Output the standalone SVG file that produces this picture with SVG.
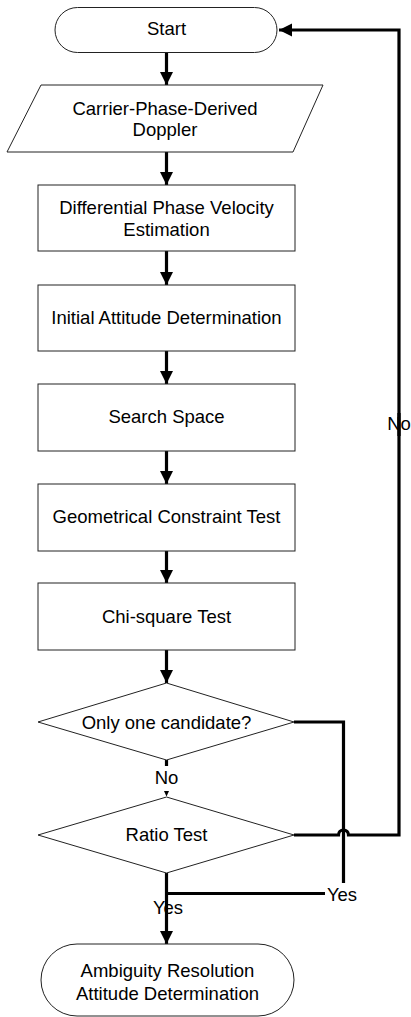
<svg xmlns="http://www.w3.org/2000/svg" width="411" height="1017" viewBox="0 0 411 1017">
<style>
.n{fill:#fff;stroke:#222;stroke-width:1}
.t{font-family:"Liberation Sans",Arial,sans-serif;font-size:18.5px;fill:#000;text-anchor:middle}
.c{fill:none;stroke:#000;stroke-width:3.2}
</style>
<defs>
<marker id="ah" markerUnits="userSpaceOnUse" markerWidth="14" markerHeight="14" refX="13" refY="6.5" orient="auto">
<path d="M0,0 L13,6.5 L0,13 z" fill="#000"/>
</marker>
</defs>
<rect width="411" height="1017" fill="#fff"/>
<g id="connectors">
<path class="c" d="M166.5,52 V85" marker-end="url(#ah)"/>
<path class="c" d="M166.5,152 V185" marker-end="url(#ah)"/>
<path class="c" d="M166.5,251 V285" marker-end="url(#ah)"/>
<path class="c" d="M166.5,351 V384" marker-end="url(#ah)"/>
<path class="c" d="M166.5,451 V484" marker-end="url(#ah)"/>
<path class="c" d="M166.5,551 V583" marker-end="url(#ah)"/>
<path class="c" d="M166.5,650 V683" marker-end="url(#ah)"/>
<path class="c" d="M166.5,760 V766"/>
<polygon points="164,791 169,791 166.5,796.5" fill="#000"/>
<path class="c" d="M294,835 H338.5 A5,5 0 0 1 348.5,835 H399 V413"/>
<path class="c" d="M399,436 V30 H279" marker-end="url(#ah)"/>
<path class="c" d="M294,722 H343.5 V883"/>
<path class="c" d="M325,893.5 H167"/>
<path class="c" d="M166.5,873 V944" marker-end="url(#ah)"/>
<text class="t" x="166.5" y="784">No</text>
<text class="t" x="399" y="430">No</text>
<text class="t" x="342" y="900.5">Yes</text>
<text class="t" x="168" y="914">Yes</text>
</g>
<g id="start"><rect class="n" x="55" y="7.5" width="222" height="45" rx="22.5"/><text class="t" x="166.5" y="35">Start</text></g>
<g id="doppler"><polygon class="n" points="41,85 323,85 293,152 7,152"/><text class="t" x="165" y="115">Carrier-Phase-Derived</text><text class="t" x="165" y="136">Doppler</text></g>
<g id="velocity"><rect class="n" x="38" y="185" width="257" height="66"/><text class="t" x="166.5" y="214">Differential Phase Velocity</text><text class="t" x="166.5" y="235.5">Estimation</text></g>
<g id="initial"><rect class="n" x="38" y="285" width="257" height="66"/><text class="t" x="166.5" y="324">Initial Attitude Determination</text></g>
<g id="search"><rect class="n" x="38" y="384" width="257" height="67"/><text class="t" x="166.5" y="423">Search Space</text></g>
<g id="geometric"><rect class="n" x="38" y="484" width="257" height="67"/><text class="t" x="166.5" y="523">Geometrical Constraint Test</text></g>
<g id="chisquare"><rect class="n" x="38" y="583" width="257" height="67"/><text class="t" x="166.5" y="623">Chi-square Test</text></g>
<g id="onecandidate"><polygon class="n" points="166.5,683 294,722 166.5,760 38,722"/><text class="t" x="166.5" y="729">Only one candidate?</text></g>
<g id="ratio"><polygon class="n" points="166.5,797 294,835 166.5,873 38,835"/><text class="t" x="166.5" y="841">Ratio Test</text></g>
<g id="end"><rect class="n" x="41" y="944" width="253" height="72" rx="36"/><text class="t" x="167.5" y="977">Ambiguity Resolution</text><text class="t" x="167.5" y="1000">Attitude Determination</text></g>
</svg>
